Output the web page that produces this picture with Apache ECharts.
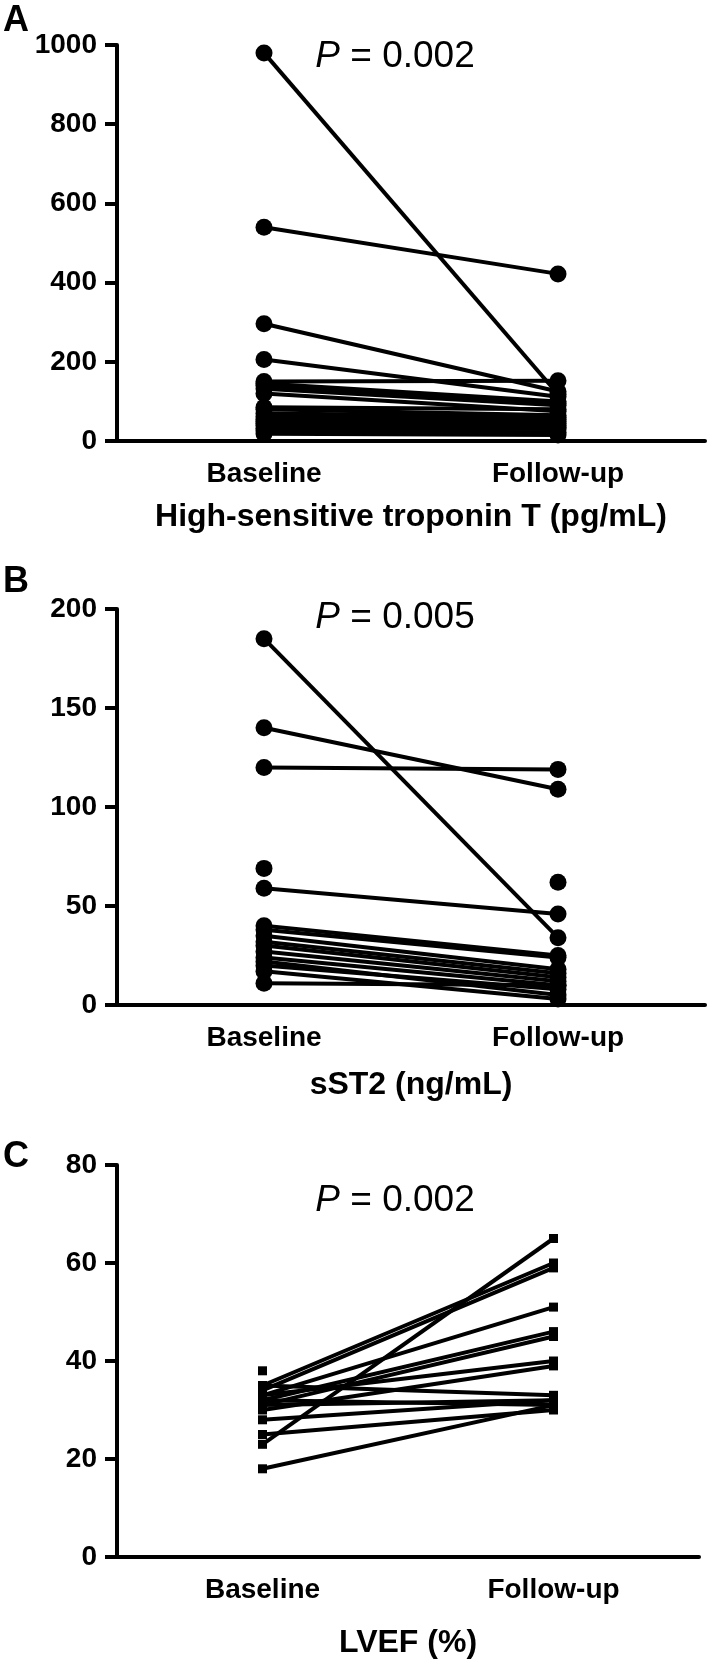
<!DOCTYPE html>
<html>
<head>
<meta charset="utf-8">
<script src="https://cdn.jsdelivr.net/npm/echarts@6/dist/echarts.min.js"></script>
<style>
html,body{margin:0;padding:0;background:#fff;}
#chart{width:709px;height:1660px;}
</style>
</head>
<body>
<div id="chart"></div>
<script>
// ---- Data ----
const categories = ['Baseline', 'Follow-up'];

// Panel A: High-sensitive troponin T (pg/mL)
const tropBaseline = [980, 540, 296, 206, 150, 145, 140, 132, 120, 85, 80, 70, 62, 55, 50, 45, 40, 32, 25, 18];
const tropFollowup = [118, 422, 125, 112, 152, 100, 95, 90, 75, 80, 65, 60, 55, 50, 45, 40, 35, 30, 22, 15];
const tropTicks = {min: 0, max: 1000, interval: 200};

// Panel B: sST2 (ng/mL)
const st2Baseline = [185, 140, 120, 69, 59, null, 40, 38, 35, 32, 30, 27, 24, 20, 11, 22, 17];
const st2Followup = [34, 109, 119, null, 46, 62, 25, 24, 18, 16, 14, 12, 10, 8, 10, 5, 3];
const st2Ticks = {min: 0, max: 200, interval: 50};

// Panel C: LVEF (%)
const lvefBaseline = [23, 35, 34, 33, 32, 31, 33, 30, 35, 31, 28, 25, 18, 32, 38];
const lvefFollowup = [65, 60, 59, 51, 46, 45, 40, 39, 33, 32, 32, 30, 31, 31, null];
const lvefTicks = {min: 0, max: 80, interval: 20};

const pTexts = ['0.002', '0.005', '0.002'];
const axisTitles = ['High-sensitive troponin T (pg/mL)', 'sST2 (ng/mL)', 'LVEF (%)'];
const panelLetters = ['A', 'B', 'C'];

// ---- Layout ----
const FONT = '"Liberation Sans", Arial, Helvetica, sans-serif';
const panels = [
  {top: 45,   left: 117, width: 588, height: 396, ticks: tropTicks, b: tropBaseline, f: tropFollowup, symbol: 'circle', size: 17, nameGap: 60, letterY: 21, pY: 57},
  {top: 609,  left: 117, width: 588, height: 396, ticks: st2Ticks,  b: st2Baseline,  f: st2Followup,  symbol: 'circle', size: 17, nameGap: 64, letterY: 582, pY: 618},
  {top: 1165, left: 117, width: 582, height: 396, ticks: lvefTicks, b: lvefBaseline, f: lvefFollowup, symbol: 'rect',   size: 9,  nameGap: 70, letterY: 1157, pY: 1201}
];

const grids = [], xAxes = [], yAxes = [], series = [], graphics = [];
panels.forEach((p, i) => {
  grids.push({left: p.left, top: p.top, width: p.width, height: p.height, containLabel: false});
  xAxes.push({
    type: 'category', gridIndex: i, data: categories, boundaryGap: true,
    axisLine: {lineStyle: {color: '#000', width: 4}},
    axisTick: {alignWithLabel: true, length: 11, lineStyle: {color: '#000', width: 4}},
    axisLabel: {color: '#000', fontFamily: FONT, fontWeight: 'bold', fontSize: 28, margin: 19},
    name: axisTitles[i], nameLocation: 'middle', nameGap: p.nameGap,
    nameTextStyle: {color: '#000', fontFamily: FONT, fontWeight: 'bold', fontSize: 32},
    splitLine: {show: false}
  });
  yAxes.push({
    type: 'value', gridIndex: i, min: p.ticks.min, max: p.ticks.max, interval: p.ticks.interval,
    axisLine: {show: true, lineStyle: {color: '#000', width: 4}},
    axisTick: {show: true, length: 12, lineStyle: {color: '#000', width: 4}},
    axisLabel: {color: '#000', fontFamily: FONT, fontWeight: 'bold', fontSize: 28, margin: 20,
                formatter: v => String(v)},
    splitLine: {show: false}
  });
  for (let j = 0; j < p.b.length; j++) {
    series.push({
      type: 'line', xAxisIndex: i, yAxisIndex: i,
      data: [p.b[j], p.f[j]],
      symbol: p.symbol, symbolSize: p.size, showSymbol: true, showAllSymbol: true,
      lineStyle: {color: '#000', width: 4},
      itemStyle: {color: '#000'},
      silent: true, animation: false, z: 3
    });
  }
  graphics.push({
    type: 'text', x: 3, y: p.letterY,
    style: {text: panelLetters[i], fill: '#000', font: 'bold 36px ' + FONT, textAlign: 'left', textVerticalAlign: 'middle'}
  });
  graphics.push({
    type: 'text', x: 395, y: p.pY,
    style: {
      text: '{i|P} = ' + pTexts[i], fill: '#000', font: '37px ' + FONT,
      textAlign: 'center', textVerticalAlign: 'middle',
      rich: {i: {fontStyle: 'italic', fontSize: 37, fontFamily: FONT, fill: '#000'}}
    }
  });
});

const chart = echarts.init(document.getElementById('chart'), null, {renderer: 'canvas'});
chart.setOption({
  backgroundColor: '#fff',
  animation: false,
  grid: grids, xAxis: xAxes, yAxis: yAxes, series: series,
  graphic: graphics
});
</script>
</body>
</html>
